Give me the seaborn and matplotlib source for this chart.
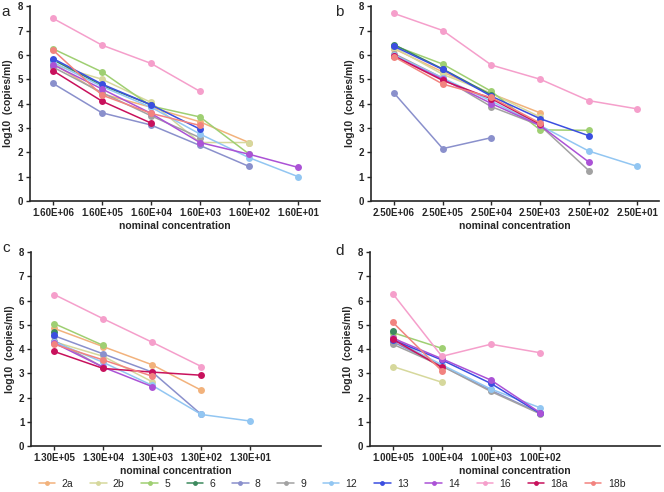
import numpy as np
import pandas as pd
import seaborn as sns
import matplotlib.pyplot as plt
from matplotlib.lines import Line2D

nan = np.nan

series = ["2a", "2b", "5", "6", "8", "9", "12", "13", "14", "16", "18a", "18b"]
colors = ["#f2b27c", "#d6d89c", "#9fcf72", "#3d8a5e", "#8a90cc", "#a2a2a2",
          "#92c6f2", "#3b4ee0", "#ab52d6", "#f59fcb", "#c8115c", "#f2837f"]

ticks_a = ["1.60E+06", "1.60E+05", "1.60E+04", "1.60E+03", "1.60E+02", "1.60E+01"]
ticks_b = ["2.50E+06", "2.50E+05", "2.50E+04", "2.50E+03", "2.50E+02", "2.50E+01"]
ticks_c = ["1.30E+05", "1.30E+04", "1.30E+03", "1.30E+02", "1.30E+01"]
ticks_d = ["1.00E+05", "1.00E+04", "1.00E+03", "1.00E+02"]

# log10 copies/ml per series, one value per dilution step
panel_a = {
    "2a":  [5.65, 4.40, 3.85, 3.25, 2.40, nan],
    "2b":  [5.60, 5.00, 4.05, 2.40, 2.40, nan],
    "5":   [6.25, 5.30, 3.90, 3.45, 1.93, nan],
    "6":   [5.80, 4.75, 3.95, nan, nan, nan],
    "8":   [4.83, 3.62, 3.12, 2.28, 1.42, nan],
    "9":   [5.50, 4.45, 3.50, 2.60, nan, nan],
    "12":  [5.70, 4.70, 3.85, 2.75, 1.78, 1.00],
    "13":  [5.85, 4.80, 3.95, 2.95, nan, nan],
    "14":  [5.60, 4.60, 3.60, 2.40, 1.92, 1.38],
    "16":  [7.50, 6.40, 5.65, 4.50, nan, nan],
    "18a": [5.35, 4.10, 3.20, nan, nan, nan],
    "18b": [6.20, 4.35, 3.60, 3.10, nan, nan],
}
panel_b = {
    "2a":  [6.25, 5.30, 4.40, 3.62, nan, nan],
    "2b":  [6.30, 5.20, 4.42, 3.45, nan, nan],
    "5":   [6.38, 5.62, 4.50, 2.92, 2.90, nan],
    "6":   [6.42, 5.42, 4.35, nan, nan, nan],
    "8":   [4.43, 2.15, 2.60, nan, nan, nan],
    "9":   [6.05, 5.05, 3.87, 3.10, 1.25, nan],
    "12":  [6.00, 5.05, 4.10, 3.10, 2.05, 1.42],
    "13":  [6.35, 5.40, 4.30, 3.38, 2.68, nan],
    "14":  [5.95, 5.00, 4.00, 3.10, 1.60, nan],
    "16":  [7.70, 7.00, 5.58, 5.00, 4.12, 3.78],
    "18a": [5.95, 4.95, 4.20, 3.15, nan, nan],
    "18b": [5.92, 4.80, 4.25, 3.20, nan, nan],
}
panel_c = {
    "2a":  [4.85, 4.10, 3.35, 2.30, nan],
    "2b":  [4.30, 3.70, 2.65, nan, nan],
    "5":   [5.05, 4.15, nan, nan, nan],
    "6":   [4.70, nan, nan, nan, nan],
    "8":   [4.55, 3.80, 3.05, 1.30, nan],
    "9":   [4.35, 3.25, nan, nan, nan],
    "12":  [4.30, 3.45, 2.50, 1.30, 1.03],
    "13":  [4.60, nan, nan, nan, nan],
    "14":  [4.25, 3.25, 2.45, nan, nan],
    "16":  [6.25, 5.25, 4.28, 3.28, nan],
    "18a": [3.90, 3.20, 3.05, 2.92, nan],
    "18b": [4.20, 3.55, 2.88, nan, nan],
}
panel_d = {
    "2a":  [4.50, 3.20, nan, nan],
    "2b":  [3.28, 2.63, nan, nan],
    "5":   [4.68, 4.03, nan, nan],
    "6":   [4.75, nan, nan, nan],
    "8":   [4.30, 3.30, 2.30, 1.35],
    "9":   [4.20, 3.30, 2.25, 1.33],
    "12":  [4.40, 3.35, 2.35, 1.58],
    "13":  [4.38, 3.55, 2.58, 1.35],
    "14":  [4.45, 3.60, 2.72, 1.38],
    "16":  [6.28, 3.70, 4.20, 3.85],
    "18a": [4.40, 3.25, nan, nan],
    "18b": [5.10, 3.10, nan, nan],
}


def to_long(panel):
    rows = []
    for name in series:
        for i, v in enumerate(panel[name]):
            if not np.isnan(v):
                rows.append({"step": i, "value": v, "sample": name})
    return pd.DataFrame(rows)


sns.set_style("ticks")
plt.rcParams["font.family"] = ["Liberation Sans", "DejaVu Sans"]
palette = dict(zip(series, colors))

fig = plt.figure(figsize=(6.64, 4.92), dpi=100)
boxes = [(0.045, 0.5915, 0.437, 0.396), (0.559, 0.5915, 0.434, 0.396),
         (0.047, 0.0935, 0.437, 0.394), (0.557, 0.0935, 0.437, 0.394)]
panels = [panel_a, panel_b, panel_c, panel_d]
tick_sets = [ticks_a, ticks_b, ticks_c, ticks_d]
letters = ["a", "b", "c", "d"]
letter_pos = [(0.002, 0.99), (0.505, 0.99), (0.004, 0.51), (0.505, 0.505)]

for box, panel, ticks, letter, lp in zip(boxes, panels, tick_sets, letters, letter_pos):
    ax = fig.add_axes(box)
    df = to_long(panel)
    sns.lineplot(data=df, x="step", y="value", hue="sample", hue_order=series,
                 palette=palette, marker="o", markersize=5, markeredgewidth=0,
                 linewidth=1.1, legend=False, ax=ax)
    ax.set_xlim(-0.47, 5.45)
    ax.set_ylim(0, 8)
    ax.set_yticks(range(9))
    ax.set_xticks(range(len(ticks)))
    ax.set_xticklabels(ticks)
    ax.tick_params(axis="both", labelsize=7, length=3, width=1, pad=2)
    for lab in ax.get_xticklabels() + ax.get_yticklabels():
        lab.set_fontweight("bold")
    ax.set_xlabel("nominal concentration", fontsize=7.5, fontweight="bold", labelpad=2)
    ax.set_ylabel("log10  (copies/ml)", fontsize=7.5, fontweight="bold", labelpad=3)
    sns.despine(ax=ax)
    for s in ["left", "bottom"]:
        ax.spines[s].set_linewidth(1.2)
    fig.text(lp[0], lp[1], letter, fontsize=11, va="top", ha="left")

handles = [Line2D([0], [0], color=c, marker="o", markersize=3.5, markeredgewidth=0,
                  linewidth=1.1) for c in colors]
fig.legend(handles, series, loc="lower center", bbox_to_anchor=(0.5, -0.012), ncol=12,
           frameon=False, fontsize=7.5, handlelength=1.6, handletextpad=0.6,
           columnspacing=1.6)

fig.savefig("out.png", dpi=100)
